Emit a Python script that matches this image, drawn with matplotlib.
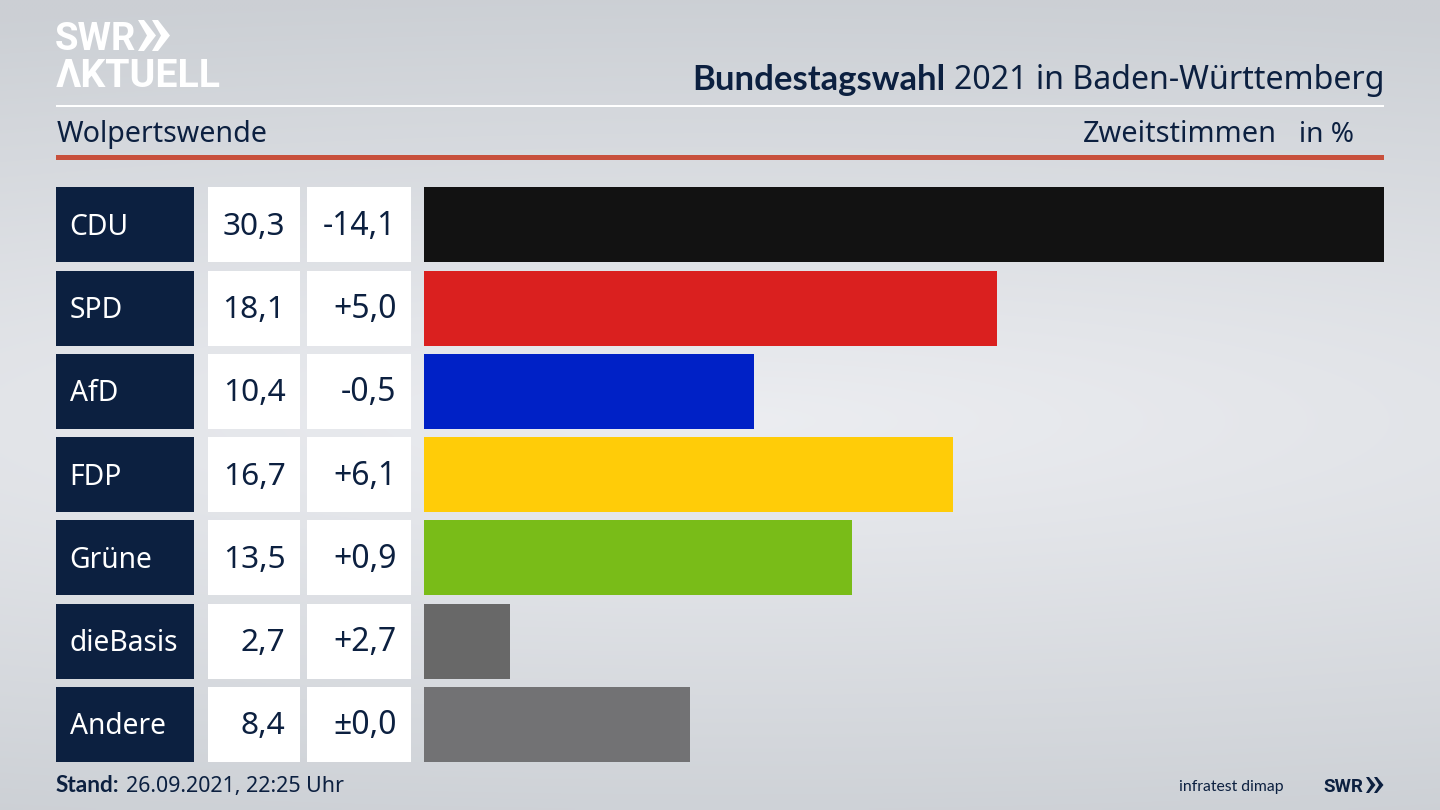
import numpy as np
import matplotlib
matplotlib.use("Agg")
import matplotlib.pyplot as plt
from matplotlib.patches import Rectangle, Polygon

parties = ["CDU", "SPD", "AfD", "FDP", "Grüne", "dieBasis", "Andere"]
shares = [30.3, 18.1, 10.4, 16.7, 13.5, 2.7, 8.4]
share_labels = ["30,3", "18,1", "10,4", "16,7", "13,5", "2,7", "8,4"]
change_labels = ["-14,1", "+5,0", "-0,5", "+6,1", "+0,9", "+2,7", "±0,0"]
bar_colors = ["#121212", "#da201f", "#0021c6", "#ffcc08", "#79bc18", "#686868", "#727274"]

NAVY = "#0c2040"
W, H = 1440, 810
plt.rcParams["font.family"] = ["Noto Sans", "DejaVu Sans"]

fig = plt.figure(figsize=(14.4, 8.1), dpi=100)
bg = fig.add_axes([0, 0, 1, 1])
bg.set_xlim(0, W); bg.set_ylim(H, 0); bg.axis("off")

# Backdrop: light band across the middle, darker towards the corners
yy, xx = np.mgrid[0:H:4, 0:W:4]
d = np.sqrt(((yy - 420) / 420) ** 2 + (0.3 * (xx - 720) / 720) ** 2)
shade = np.clip(d, 0, 1)
c0 = np.array([0.925, 0.93, 0.945]); c1 = np.array([0.80, 0.815, 0.835])
img = c0 + (c1 - c0) * shade[..., None]
bg.imshow(img, extent=(0, W, H, 0), aspect="auto", zorder=0, interpolation="bilinear")

# Header rules
bg.add_patch(Rectangle((56, 104.5), 1328, 2.8, color="white", lw=0, zorder=1))
bg.add_patch(Rectangle((56, 155), 1328, 5.2, color="#c8503c", lw=0, zorder=1))

# Logo
bg.text(55, 50.5, "SWR", fontsize=27.5, fontweight="bold", color="white", va="baseline", family="Roboto", zorder=2)
for x0 in (138, 152):
    bg.add_patch(Polygon([(x0, 20), (x0 + 6, 20), (x0 + 18, 35.5), (x0 + 6, 51), (x0, 51), (x0 + 9, 35.5)], color="white", lw=0, zorder=2))
bg.text(56, 87, "ΛKTUELL", fontsize=28.3, fontweight="bold", color="white", va="baseline", family="Roboto", zorder=2)

# Titles
bg.text(692, 90, "Bundestagswahl", fontsize=24.9, fontweight="bold", color=NAVY, va="baseline", family="Lato", zorder=2)
bg.text(1384, 89, "2021 in Baden-Württemberg", fontsize=23.1, color=NAVY, va="baseline", ha="right", zorder=2)
bg.text(57, 142, "Wolpertswende", fontsize=20.6, color=NAVY, va="baseline", zorder=2)
bg.text(1277, 142, "Zweitstimmen", fontsize=20.8, color=NAVY, va="baseline", ha="right", zorder=2)
bg.text(1354, 142, "in %", fontsize=20.2, color=NAVY, va="baseline", ha="right", zorder=2)

# Table rows
row_h = 75
top0, bottom = 187.2, 762
pitch = (bottom - top0 - row_h) / 6
for i, (p, s, c) in enumerate(zip(parties, share_labels, change_labels)):
    top = top0 + i * pitch
    mid = top + row_h / 2
    bg.add_patch(Rectangle((56, top), 137.5, row_h, color=NAVY, lw=0, zorder=1))
    bg.add_patch(Rectangle((208, top), 91.5, row_h, color="white", lw=0, zorder=1))
    bg.add_patch(Rectangle((307, top), 103.5, row_h, color="white", lw=0, zorder=1))
    base = mid + 10
    bg.text(69.5, base, p, fontsize=20.3, color="white", va="baseline", zorder=2)
    bg.text(285.5, base, s, fontsize=22.8, color=NAVY, va="baseline", ha="right", zorder=2)
    bg.text(396.5, base, c, fontsize=23, color=NAVY, va="baseline", ha="right", zorder=2)

# Footer
bg.text(56, 792, "Stand:", fontsize=16.3, fontweight="bold", color=NAVY, va="baseline", family="Lato", zorder=2)
bg.text(126, 792, "26.09.2021, 22:25 Uhr", fontsize=15.4, color=NAVY, va="baseline", zorder=2)
bg.text(1284, 791, "infratest dimap", fontsize=11.3, color=NAVY, va="baseline", ha="right", family="Lato", zorder=2)
bg.text(1323.5, 792, "SWR", fontsize=13.5, fontweight="bold", color=NAVY, va="baseline", family="Roboto", zorder=2)
for x0 in (1366, 1374):
    bg.add_patch(Polygon([(x0, 777), (x0 + 3, 777), (x0 + 9.5, 785), (x0 + 3, 793), (x0, 793), (x0 + 5, 785)], color=NAVY, lw=0, zorder=2))

# Bars
x0, x1 = 424, 1384
ax = fig.add_axes([x0 / W, 1 - bottom / H, (x1 - x0) / W, (bottom - top0) / H])
ax.patch.set_alpha(0)
y = np.arange(len(parties))
ax.barh(y, shares, height=row_h / pitch, color=bar_colors, linewidth=0)
ax.set_xlim(0, max(shares))
half = (row_h / pitch) / 2
ax.set_ylim(len(parties) - 1 + half, -half)
ax.axis("off")

fig.savefig("out.png", dpi=100)
